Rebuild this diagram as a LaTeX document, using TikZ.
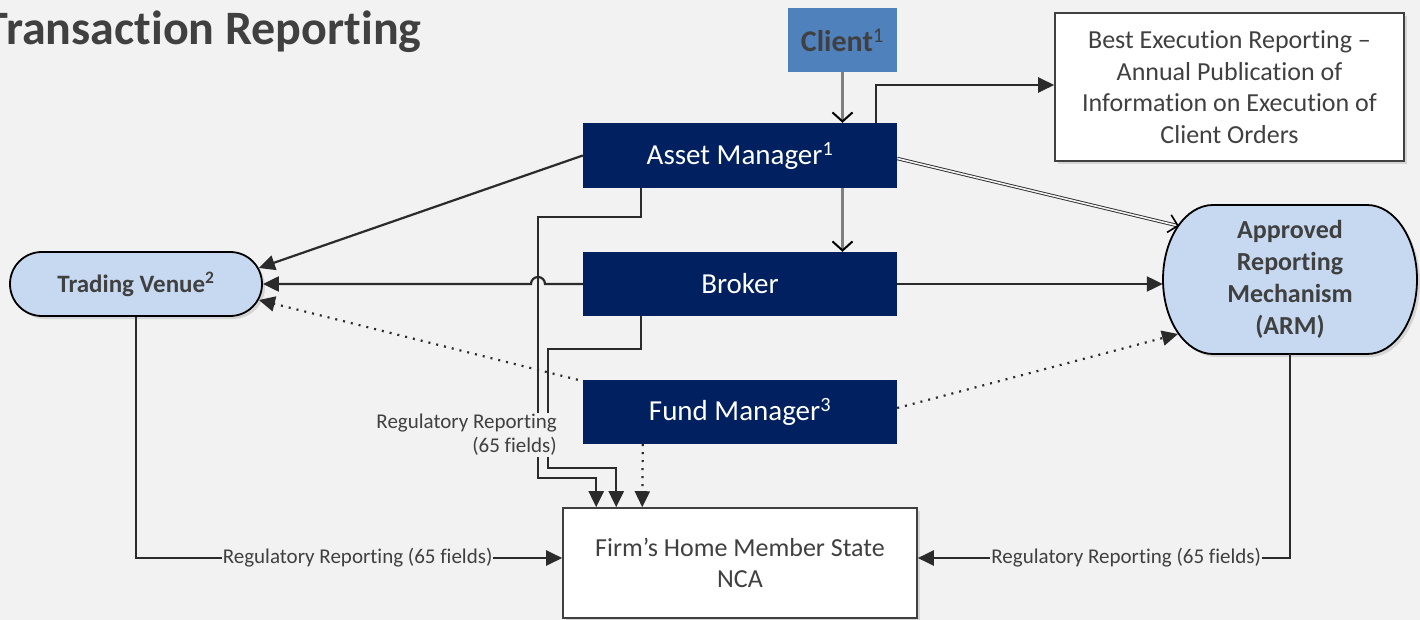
\documentclass[tikz,border=0pt]{standalone}
\usepackage{fontspec}
\setmainfont[Ligatures=CommonOff]{Carlito}
\usetikzlibrary{arrows.meta,shadows}
\definecolor{bg}{HTML}{F2F2F2}
\definecolor{navy}{HTML}{002060}
\definecolor{clientblue}{HTML}{4F81BD}
\definecolor{paleblue}{HTML}{C6D9F1}
\definecolor{ink}{HTML}{404040}
\definecolor{wire}{HTML}{2B2B2B}
\begin{document}
\begin{tikzpicture}[x=1pt,y=-1pt,
firm node/.style={rectangle,fill=navy,text=white,minimum width=314pt,minimum height=65pt,inner sep=0pt,font=\fontsize{29}{35}\selectfont},
info node/.style={rectangle,draw=ink,line width=1.6pt,fill=white,text=ink,align=center,inner sep=0pt,font=\fontsize{26}{31.5}\selectfont,drop shadow={shadow xshift=3pt,shadow yshift=-3pt,opacity=0.25}},
venue node/.style={rectangle,rounded corners=31.9pt,draw=black,line width=1.8pt,fill=paleblue,text=ink,inner sep=0pt,font=\fontsize{25}{30}\bfseries\selectfont,drop shadow={shadow xshift=3pt,shadow yshift=-3pt,opacity=0.25}},
flow/.style={draw=wire,line width=2.2pt,-{Triangle[length=16pt,width=15pt]}},
dot flow/.style={flow,dash pattern=on 2pt off 6pt},
grey flow/.style={draw=gray,line width=2.2pt,-{Straight Barb[length=9pt,width=20pt,line width=2pt,color=black]}},
twin flow/.style={draw=wire,line width=0.9pt,double=bg,double distance=1.6pt,-{Straight Barb[length=9pt,width=18pt,line width=1.6pt,color=black]}},
tag/.style={fill=bg,text=ink,inner sep=1pt,font=\fontsize{21}{24}\selectfont}]
\fill[bg] (0,0) rectangle (1420,620);
\useasboundingbox (0,0) rectangle (1420,620);
\begin{scope}
\node[anchor=base east,text=ink,font=\fontsize{48}{56}\bfseries\selectfont] (title) at (425,45) {Transaction Reporting};
\node[rectangle,fill=clientblue,text=ink,minimum width=109pt,minimum height=64pt,inner sep=0pt,font=\fontsize{30}{36}\bfseries\selectfont] (client) at (842.5,40) {Client\textsuperscript{\mdseries 1}};
\node[info node,minimum width=349pt,minimum height=148pt] (bestexec) at (1229.5,87) {Best Execution Reporting --\\Annual Publication of\\Information on Execution of\\Client Orders};
\node[firm node] (asset) at (740,155.5) {Asset Manager\textsuperscript{1}};
\node[firm node,minimum height=64pt] (broker) at (740,284) {Broker};
\node[firm node,minimum height=64pt] (fund) at (740,412) {Fund Manager\textsuperscript{3}};
\node[venue node,minimum width=252pt,minimum height=64pt] (tv) at (136,284) {Trading Venue\textsuperscript{2}};
% ARM outline with elliptic ends
\draw[line width=1.8pt,fill=paleblue,drop shadow={shadow xshift=3pt,shadow yshift=-3pt,opacity=0.25}] (1213,205) -- (1367,205) arc[start angle=90,end angle=-90,x radius=50pt,y radius=74.5pt] -- (1213,354) arc[start angle=270,end angle=90,x radius=50pt,y radius=74.5pt] -- cycle;
\node[rectangle,minimum width=254pt,minimum height=149pt,inner sep=0pt,align=center,text=ink,font=\fontsize{26}{32}\bfseries\selectfont] (arm) at (1290,279.5) {Approved\\Reporting\\Mechanism\\(ARM)};
\node[info node,minimum width=354pt,minimum height=110pt] (nca) at (740,563) {Firm’s Home Member State\\NCA};
\coordinate (armhigh) at (1179,226);
\coordinate (armlow) at (1178,334);
\end{scope}
\begin{scope}
\draw[grey flow] (client.south) -- (client.south |- asset.north);
\draw[grey flow] (asset.south -| client.south) -- (broker.north -| client.south);
\draw[flow] ([xshift=-21pt]asset.north east) |- ([yshift=2pt]bestexec.west);
\draw[twin flow] ([yshift=-3pt]asset.east) -- (armhigh);
\draw[flow] (asset.west) -- ([shift={(-4pt,16pt)}]tv.east);
\draw[flow] (broker.west) -- (545,284) arc[start angle=0,end angle=180,radius=7pt] -- (tv.east);
\draw[flow] (broker.east) -- (broker.east -| arm.west);
\draw[dot flow] ([xshift=-5pt]fund.north west) -- ([shift={(-4pt,-16pt)}]tv.east);
\draw[dot flow] ([yshift=4pt]fund.east) -- (armlow);
\draw[flow] ([xshift=58pt]asset.south west) |- (538,217) -- (538,478) -| ([xshift=34pt]nca.north west);
\draw[flow] ([xshift=58pt]broker.south west) |- (548,349) -- (548,468) -| ([xshift=54pt]nca.north west);
\draw[dot flow] ([xshift=60pt]fund.south west) -- ([xshift=80pt]nca.north west);
\node[tag,anchor=east,align=right] (midtag) at (558,435) {Regulatory Reporting\\(65 fields)};
\draw[flow] (tv.south) |- node[tag,pos=0.76]{Regulatory Reporting (65 fields)} ([yshift=5pt]nca.west);
\draw[flow] (arm.south) |- node[tag,pos=0.72]{Regulatory Reporting (65 fields)} ([yshift=5pt]nca.east);
\end{scope}
\end{tikzpicture}
\end{document}
